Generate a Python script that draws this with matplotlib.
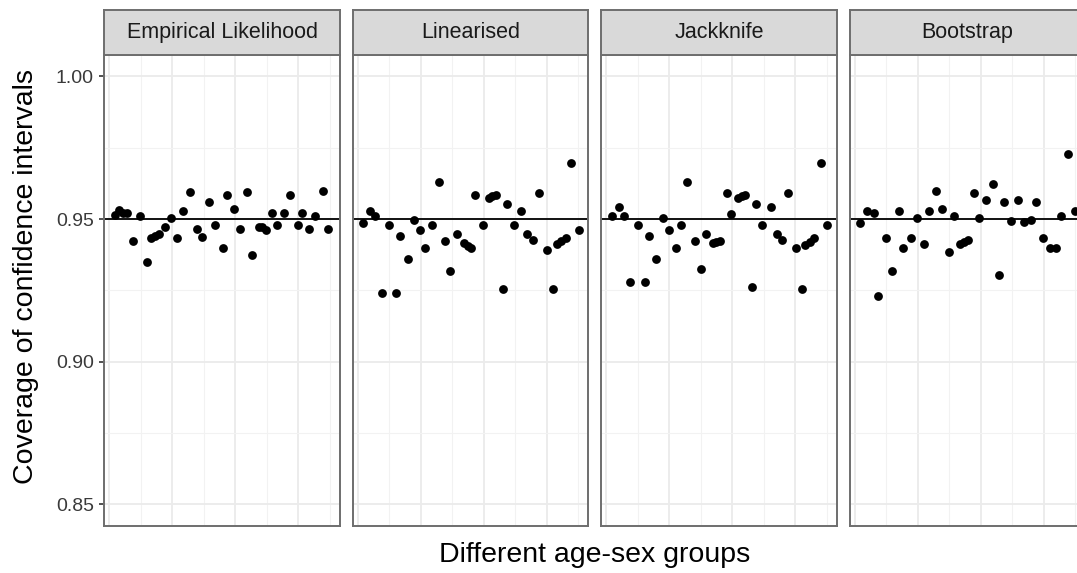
import matplotlib.pyplot as plt

plt.rcParams["font.family"] = ["Liberation Sans", "DejaVu Sans"]

# methods shown in the facets
METHODS = ["Empirical Likelihood", "Linearised", "Jackknife", "Bootstrap"]

# coverage per age-sex group (x = group position, slightly jittered)
el_x = [1.00, 1.75, 2.34, 3.03, 4.07, 5.33, 6.49, 7.24, 7.93, 8.62, 9.72, 10.75, 11.69,
        12.83, 13.99, 15.15, 16.02, 17.16, 18.32, 19.59, 20.35, 21.49, 22.65, 23.81,
        24.68, 25.82, 26.41, 27.10, 28.14, 29.01, 30.15, 31.31, 32.58, 33.34, 34.60,
        35.64, 36.91, 37.77]
el_y = [0.9514, 0.9532, 0.9521, 0.9521, 0.9424, 0.9512, 0.9350, 0.9432, 0.9441, 0.9447,
        0.9471, 0.9504, 0.9432, 0.9529, 0.9594, 0.9465, 0.9438, 0.9561, 0.9479, 0.9400,
        0.9585, 0.9535, 0.9465, 0.9594, 0.9374, 0.9473, 0.9471, 0.9462, 0.9521, 0.9479,
        0.9521, 0.9585, 0.9479, 0.9521, 0.9465, 0.9512, 0.9600, 0.9465]

lin_x = [0.99, 2.15, 3.01, 4.17, 5.32, 6.59, 7.34, 8.61, 9.65, 10.80, 11.67, 12.83,
         13.98, 15.14, 15.89, 17.16, 18.31, 19.00, 19.58, 20.33, 21.60, 22.64, 23.22,
         23.97, 25.06, 25.81, 26.97, 28.24, 29.28, 30.32, 31.30, 32.63, 33.72, 34.47,
         35.17, 35.92, 36.90, 38.17]
lin_y = [0.9486, 0.9529, 0.9512, 0.9239, 0.9479, 0.9239, 0.9439, 0.9359, 0.9498, 0.9462,
         0.9400, 0.9479, 0.9631, 0.9424, 0.9318, 0.9447, 0.9415, 0.9406, 0.9398, 0.9585,
         0.9479, 0.9573, 0.9580, 0.9585, 0.9253, 0.9553, 0.9479, 0.9529, 0.9447, 0.9427,
         0.9592, 0.9392, 0.9253, 0.9412, 0.9424, 0.9432, 0.9697, 0.9462]

jk_x = [0.99, 2.26, 3.01, 4.17, 5.49, 6.65, 7.34, 8.61, 9.82, 10.92, 12.13, 12.94,
        13.98, 15.31, 16.46, 17.16, 18.42, 19.00, 19.58, 20.79, 21.60, 22.81, 23.39,
        23.97, 25.12, 25.93, 26.97, 28.41, 29.57, 30.32, 31.47, 32.74, 33.90, 34.36,
        35.17, 35.92, 37.07, 38.23]
jk_y = [0.9512, 0.9543, 0.9512, 0.9279, 0.9479, 0.9279, 0.9439, 0.9359, 0.9504, 0.9462,
        0.9400, 0.9479, 0.9631, 0.9424, 0.9326, 0.9447, 0.9415, 0.9418, 0.9424, 0.9592,
        0.9518, 0.9573, 0.9580, 0.9585, 0.9263, 0.9553, 0.9479, 0.9543, 0.9447, 0.9427,
        0.9592, 0.9400, 0.9256, 0.9408, 0.9420, 0.9432, 0.9697, 0.9479]

bs_x = [0.88, 2.04, 3.36, 4.06, 5.33, 6.48, 7.64, 8.39, 9.66, 10.81, 11.97, 12.83,
        13.99, 15.14, 16.35, 17.16, 18.20, 18.95, 19.64, 20.68, 21.49, 22.70, 23.86,
        24.96, 25.88, 27.03, 28.19, 29.34, 30.50, 31.31, 32.52, 33.67, 34.83, 35.69,
        36.85, 38.00]
bs_y = [0.9486, 0.9529, 0.9521, 0.9230, 0.9432, 0.9318, 0.9529, 0.9398, 0.9432, 0.9502,
        0.9414, 0.9529, 0.9600, 0.9535, 0.9383, 0.9512, 0.9414, 0.9420, 0.9426, 0.9592,
        0.9502, 0.9568, 0.9623, 0.9303, 0.9561, 0.9494, 0.9568, 0.9488, 0.9498, 0.9561,
        0.9432, 0.9400, 0.9400, 0.9512, 0.9729, 0.9529]

NOMINAL = 0.95
Y_TICKS = [0.85, 0.90, 0.95, 1.00]
Y_LABELS = ["0.85", "0.90", "0.95", "1.00"]

series = [(el_x, el_y), (lin_x, lin_y), (jk_x, jk_y), (bs_x, bs_y)]

W, H = 1077, 573
fig = plt.figure(figsize=(W / 100, H / 100), dpi=100)


def px_rect(left, top, width, height):
    return [left / W, 1 - (top + height) / H, width / W, height / H]


panel_left = [104.3, 352.8, 601.3, 849.8]
panel_w = 235.5
panel_top, panel_bot = 55, 525.7
strip_top = 10
border = "#6E6E6E"

for i, (name, (xs, ys)) in enumerate(zip(METHODS, series)):
    ax = fig.add_axes(px_rect(panel_left[i], panel_top, panel_w, panel_bot - panel_top))
    ax.set_xlim(-0.85, 39.85)
    ax.set_ylim(0.8425, 1.0075)
    ax.set_xticks([0.0, 10.9, 21.8, 32.7])
    ax.set_xticks([5.45, 16.35, 27.25, 38.15], minor=True)
    ax.set_yticks(Y_TICKS)
    ax.set_yticks([0.875, 0.925, 0.975], minor=True)
    ax.grid(which="major", color="#EBEBEB", lw=1.3)
    ax.grid(which="minor", color="#F2F2F2", lw=0.8)
    ax.set_axisbelow(True)

    ax.axhline(NOMINAL, color="black", lw=1.3, zorder=2)
    ax.scatter(xs, ys, s=40, color="black", linewidths=0, zorder=3)

    for sp in ax.spines.values():
        sp.set_color(border)
        sp.set_linewidth(1.4)
    ax.tick_params(axis="x", which="both", length=0, labelbottom=False)
    ax.tick_params(axis="y", which="minor", length=0)
    if i == 0:
        ax.set_yticklabels(Y_LABELS)
        ax.tick_params(axis="y", which="major", length=3.5, width=1.2, color="#333333",
                       labelcolor="#3A3A3A", labelsize=14, pad=4)
    else:
        ax.tick_params(axis="y", which="major", length=0, labelleft=False)

    strip = fig.add_axes(px_rect(panel_left[i], strip_top, panel_w, panel_top - strip_top))
    strip.set_facecolor("#D9D9D9")
    strip.set_xticks([])
    strip.set_yticks([])
    for sp in strip.spines.values():
        sp.set_color(border)
        sp.set_linewidth(1.4)
    strip.text(0.5, 0.5, name, ha="center", va="center", fontsize=15.5, color="#1A1A1A",
               transform=strip.transAxes)

fig.text(26 / W, 1 - 277 / H, "Coverage of confidence intervals", rotation=90,
         ha="center", va="center", fontsize=20.5)
fig.text(595 / W, 1 - 555 / H, "Different age-sex groups", ha="center", va="center",
         fontsize=20.5)

fig.savefig("out.png", dpi=100)
